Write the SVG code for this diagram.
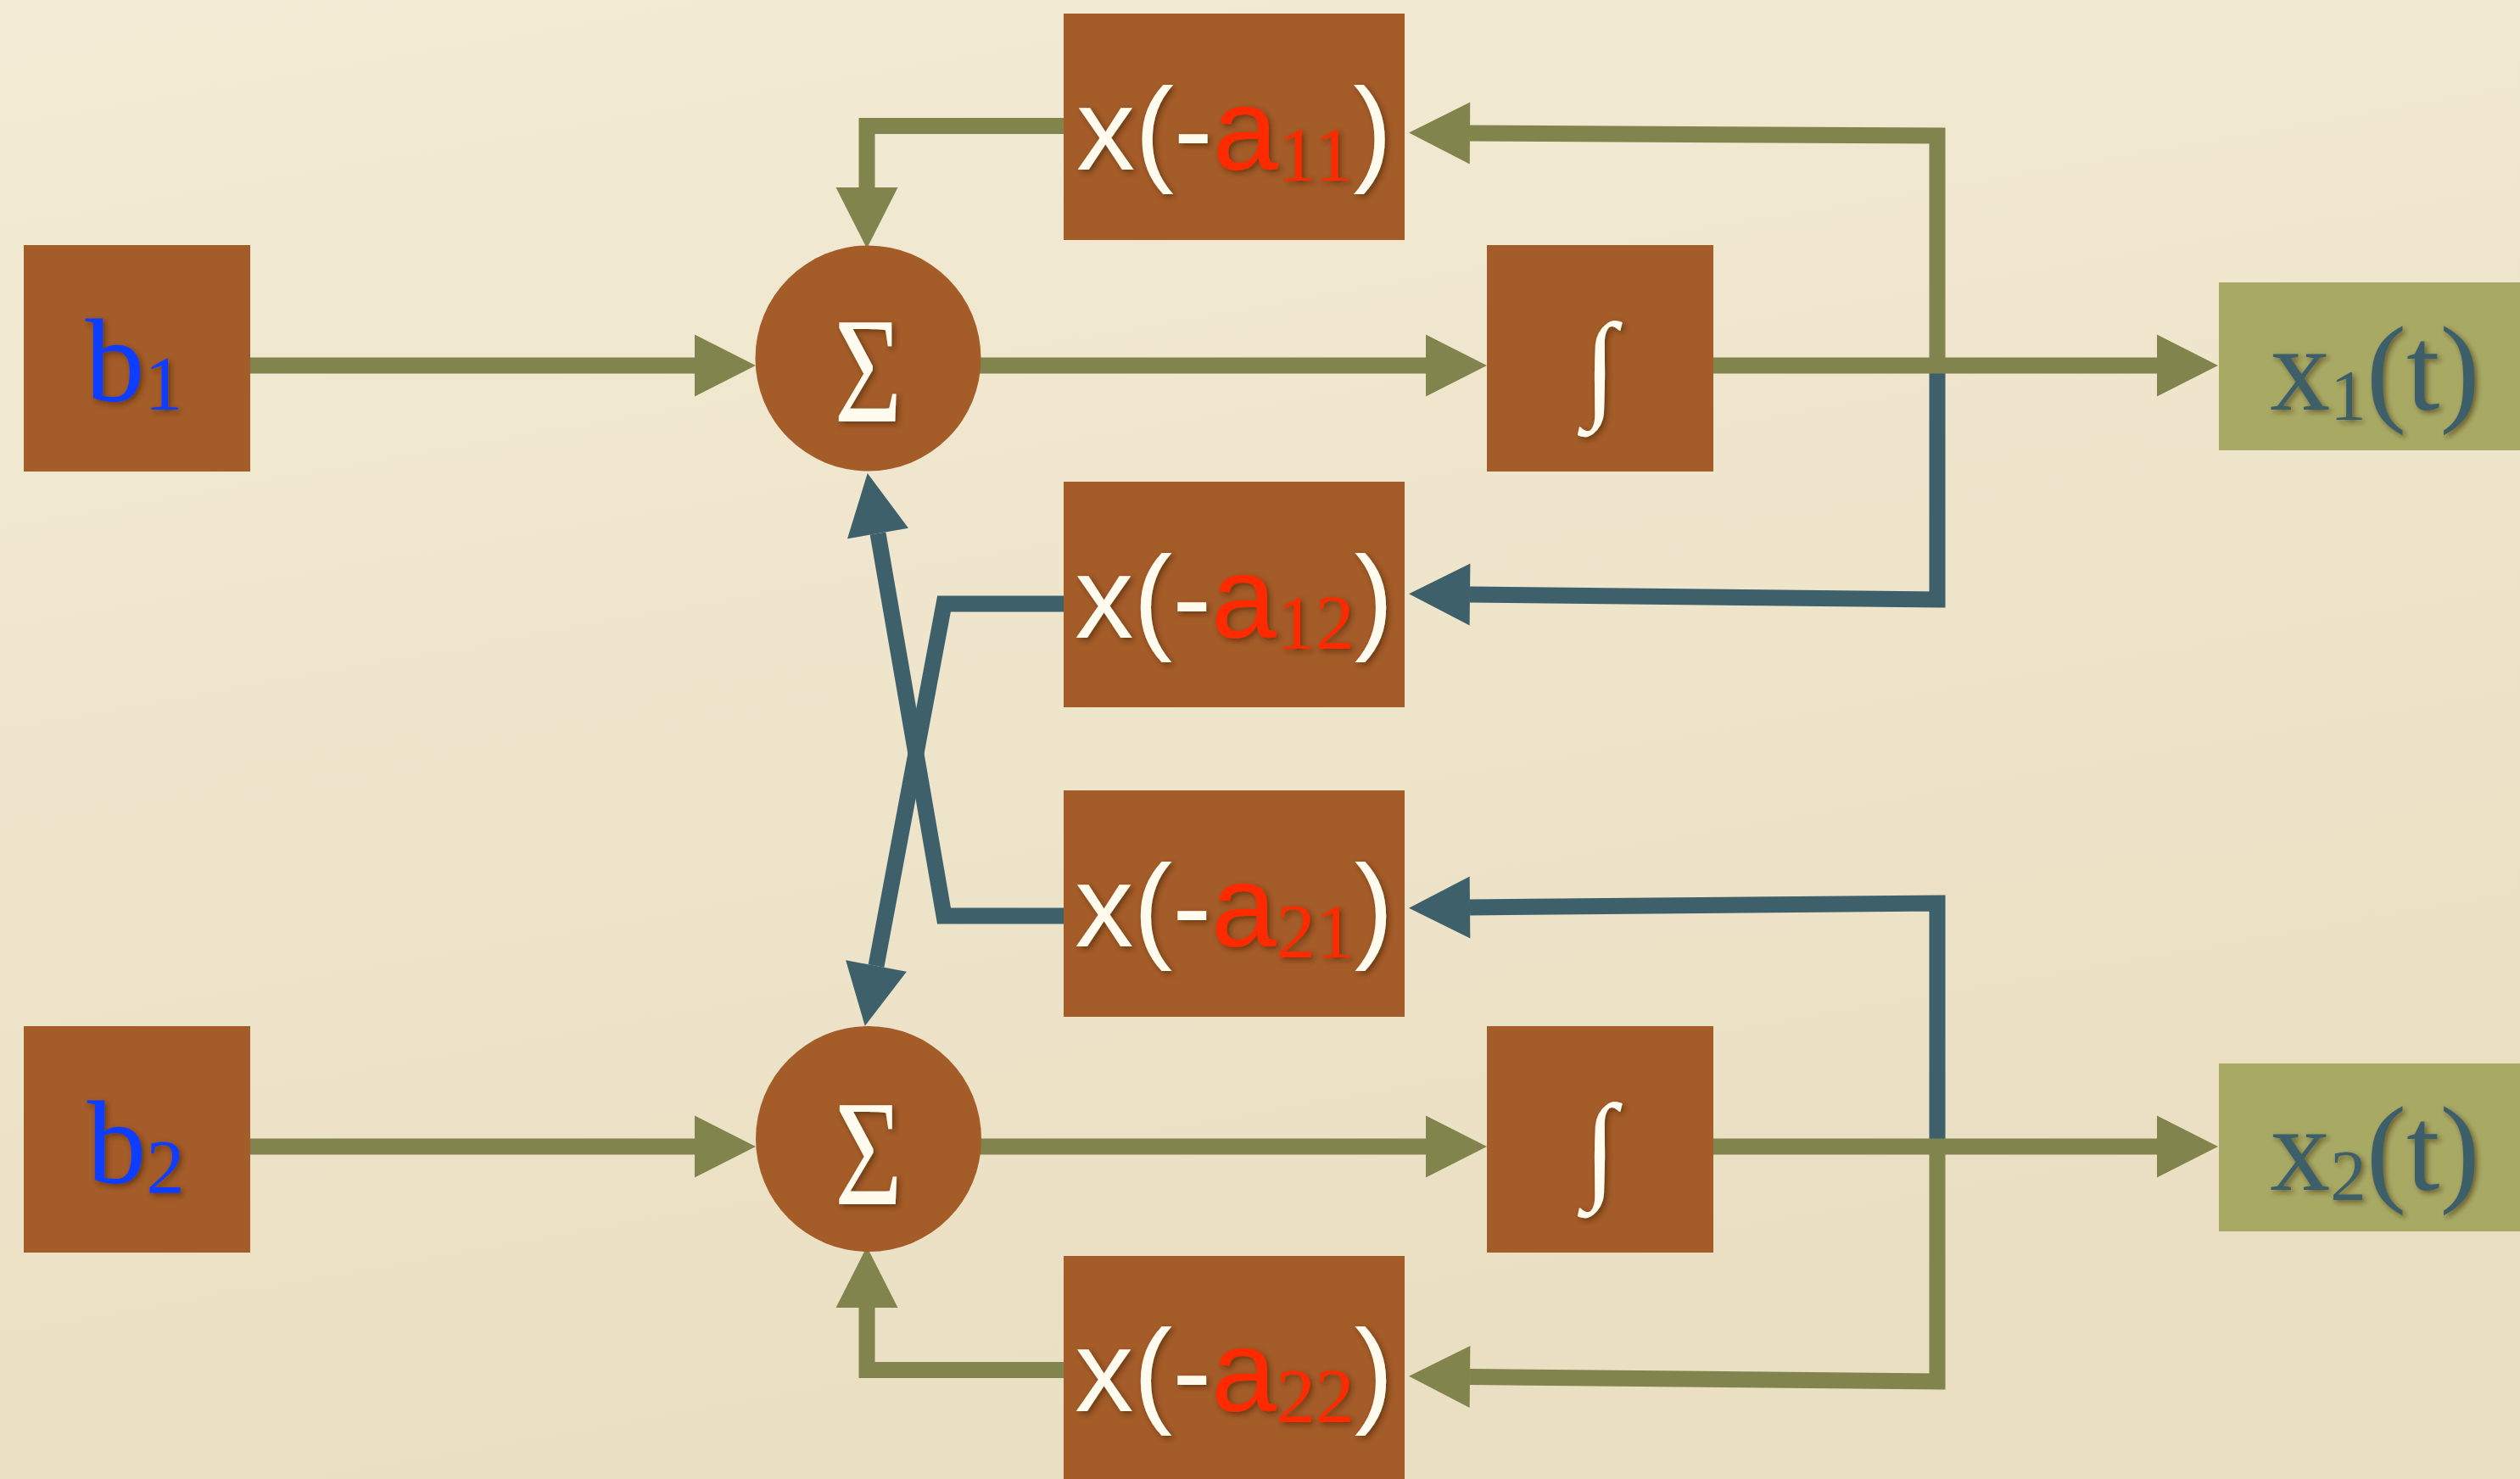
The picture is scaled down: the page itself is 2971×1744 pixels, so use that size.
<svg xmlns="http://www.w3.org/2000/svg" width="2971" height="1744" viewBox="0 0 2971 1744">
  <style>
    .box { fill: #A45C28; }
    .out { fill: #A8AA64; }
    .g { fill: none; stroke: #82844D; stroke-width: 19; stroke-linejoin: miter; }
    .b { fill: none; stroke: #3D606B; stroke-width: 19; stroke-linejoin: miter; }
    .ga { marker-end: url(#ahG); }
    .ba { marker-end: url(#ahB); }
    .serif { font-family: "Liberation Serif", "DejaVu Serif", serif; }
    .sans { font-family: "Liberation Sans", "DejaVu Sans", sans-serif; }
    .white { fill: #FFFCEF; }
    .red { fill: #FF2A00; }
    .blue { fill: #0A3CFF; }
    .teal { fill: #3E5F6B; }
    .sh { filter: url(#shadow); }
  </style>
  <defs>
    <linearGradient id="bg" x1="0" y1="0" x2="0.3" y2="1">
      <stop offset="0" stop-color="#F3EBD5"/>
      <stop offset="1" stop-color="#EADFC2"/>
    </linearGradient>
    <filter id="shadow" x="-20%" y="-20%" width="140%" height="140%">
      <feDropShadow dx="3" dy="3" stdDeviation="3" flood-color="#3a1a00" flood-opacity="0.55"/>
    </filter>
    <marker id="ahG" markerUnits="userSpaceOnUse" viewBox="0 -37 73 74" refX="0" refY="0" markerWidth="73" markerHeight="74" orient="auto" overflow="visible">
      <path d="M0,-36.5 L72,0 L0,36.5 Z" fill="#82844D"/>
    </marker>
    <marker id="ahB" markerUnits="userSpaceOnUse" viewBox="0 -37 73 74" refX="0" refY="0" markerWidth="73" markerHeight="74" orient="auto" overflow="visible">
      <path d="M0,-36.5 L72,0 L0,36.5 Z" fill="#3D606B"/>
    </marker>
  </defs>

  <rect x="0" y="0" width="2971" height="1744" fill="url(#bg)"/>

  <g id="connectors">
    <!-- feedback paths from outputs -->
    <path class="g ga" d="M2284,431 L2284,160 L1733,157"/>
    <path class="b ba" d="M2284,431 L2284,707 L1733,701"/>
    <path class="b ba" d="M2284,1352 L2284,1065 L1733,1070"/>
    <path class="g ga" d="M2284,1352 L2284,1629 L1733,1623.5"/>
    <!-- gain outputs into summers -->
    <path class="g ga" d="M1254,148.5 L1022,148.5 L1022,221"/>
    <path class="b ba" d="M1254,712 L1113,712 L1033,1139"/>
    <path class="b ba" d="M1254,1080 L1113,1080 L1035,629"/>
    <path class="g ga" d="M1254,1615.5 L1022,1615.5 L1022,1542"/>
    <!-- forward paths -->
    <path class="g ga" d="M295,431 L819,431"/>
    <path class="g ga" d="M1150,431 L1681,431"/>
    <path class="g ga" d="M2020,431 L2543,431"/>
    <path class="g ga" d="M295,1352 L819,1352"/>
    <path class="g ga" d="M1150,1352 L1681,1352"/>
    <path class="g ga" d="M2020,1352 L2543,1352"/>
  </g>

  <g id="b1">
    <rect class="box" x="28" y="289" width="267" height="267"/>
    <text class="serif blue sh" x="158" y="473" font-size="140" text-anchor="middle">b<tspan font-size="90" dy="10">1</tspan></text>
  </g>
  <g id="b2">
    <rect class="box" x="28" y="1210" width="267" height="267"/>
    <text class="serif blue sh" x="160" y="1395" font-size="140" text-anchor="middle">b<tspan font-size="90" dy="12">2</tspan></text>
  </g>

  <g id="sum1">
    <circle class="box" cx="1023.5" cy="422.5" r="133"/>
    <text class="serif white sh" x="1023.5" y="497" font-size="177" text-anchor="middle" textLength="80" lengthAdjust="spacingAndGlyphs">Σ</text>
  </g>
  <g id="sum2">
    <circle class="box" cx="1024" cy="1343" r="133"/>
    <text class="serif white sh" x="1024" y="1420" font-size="177" text-anchor="middle" textLength="80" lengthAdjust="spacingAndGlyphs">Σ</text>
  </g>

  <g id="int1">
    <rect class="box" x="1753" y="289" width="267" height="267"/>
    <text class="serif white sh" x="1886.5" y="478" font-size="140" text-anchor="middle">∫</text>
  </g>
  <g id="int2">
    <rect class="box" x="1753" y="1210" width="267" height="267"/>
    <text class="serif white sh" x="1886.5" y="1399" font-size="140" text-anchor="middle">∫</text>
  </g>

  <g id="gain11">
    <rect class="box" x="1254" y="16" width="402" height="267"/>
    <text class="sans white sh" x="1455" y="200" font-size="138" text-anchor="middle">x(-<tspan class="red">a</tspan><tspan class="serif red" font-size="92" dy="13">11</tspan><tspan dy="-13">)</tspan></text>
  </g>
  <g id="gain12">
    <rect class="box" x="1254" y="568" width="402" height="266"/>
    <text class="sans white sh" x="1455" y="752" font-size="138" text-anchor="middle">x(-<tspan class="red">a</tspan><tspan class="serif red" font-size="92" dy="13">12</tspan><tspan dy="-13">)</tspan></text>
  </g>
  <g id="gain21">
    <rect class="box" x="1254" y="932" width="402" height="267"/>
    <text class="sans white sh" x="1455" y="1116" font-size="138" text-anchor="middle">x(-<tspan class="red">a</tspan><tspan class="serif red" font-size="92" dy="13">21</tspan><tspan dy="-13">)</tspan></text>
  </g>
  <g id="gain22">
    <rect class="box" x="1254" y="1481" width="402" height="267"/>
    <text class="sans white sh" x="1455" y="1664" font-size="138" text-anchor="middle">x(-<tspan class="red">a</tspan><tspan class="serif red" font-size="92" dy="13">22</tspan><tspan dy="-13">)</tspan></text>
  </g>

  <g id="x1">
    <rect class="out" x="2616" y="333" width="360" height="198"/>
    <text class="serif teal sh" x="2800" y="483" font-size="142" text-anchor="middle">x<tspan font-size="85" dy="12">1</tspan><tspan dy="-12">(t)</tspan></text>
  </g>
  <g id="x2">
    <rect class="out" x="2616" y="1254" width="360" height="198"/>
    <text class="serif teal sh" x="2800" y="1403" font-size="142" text-anchor="middle">x<tspan font-size="85" dy="12">2</tspan><tspan dy="-12">(t)</tspan></text>
  </g>
</svg>
